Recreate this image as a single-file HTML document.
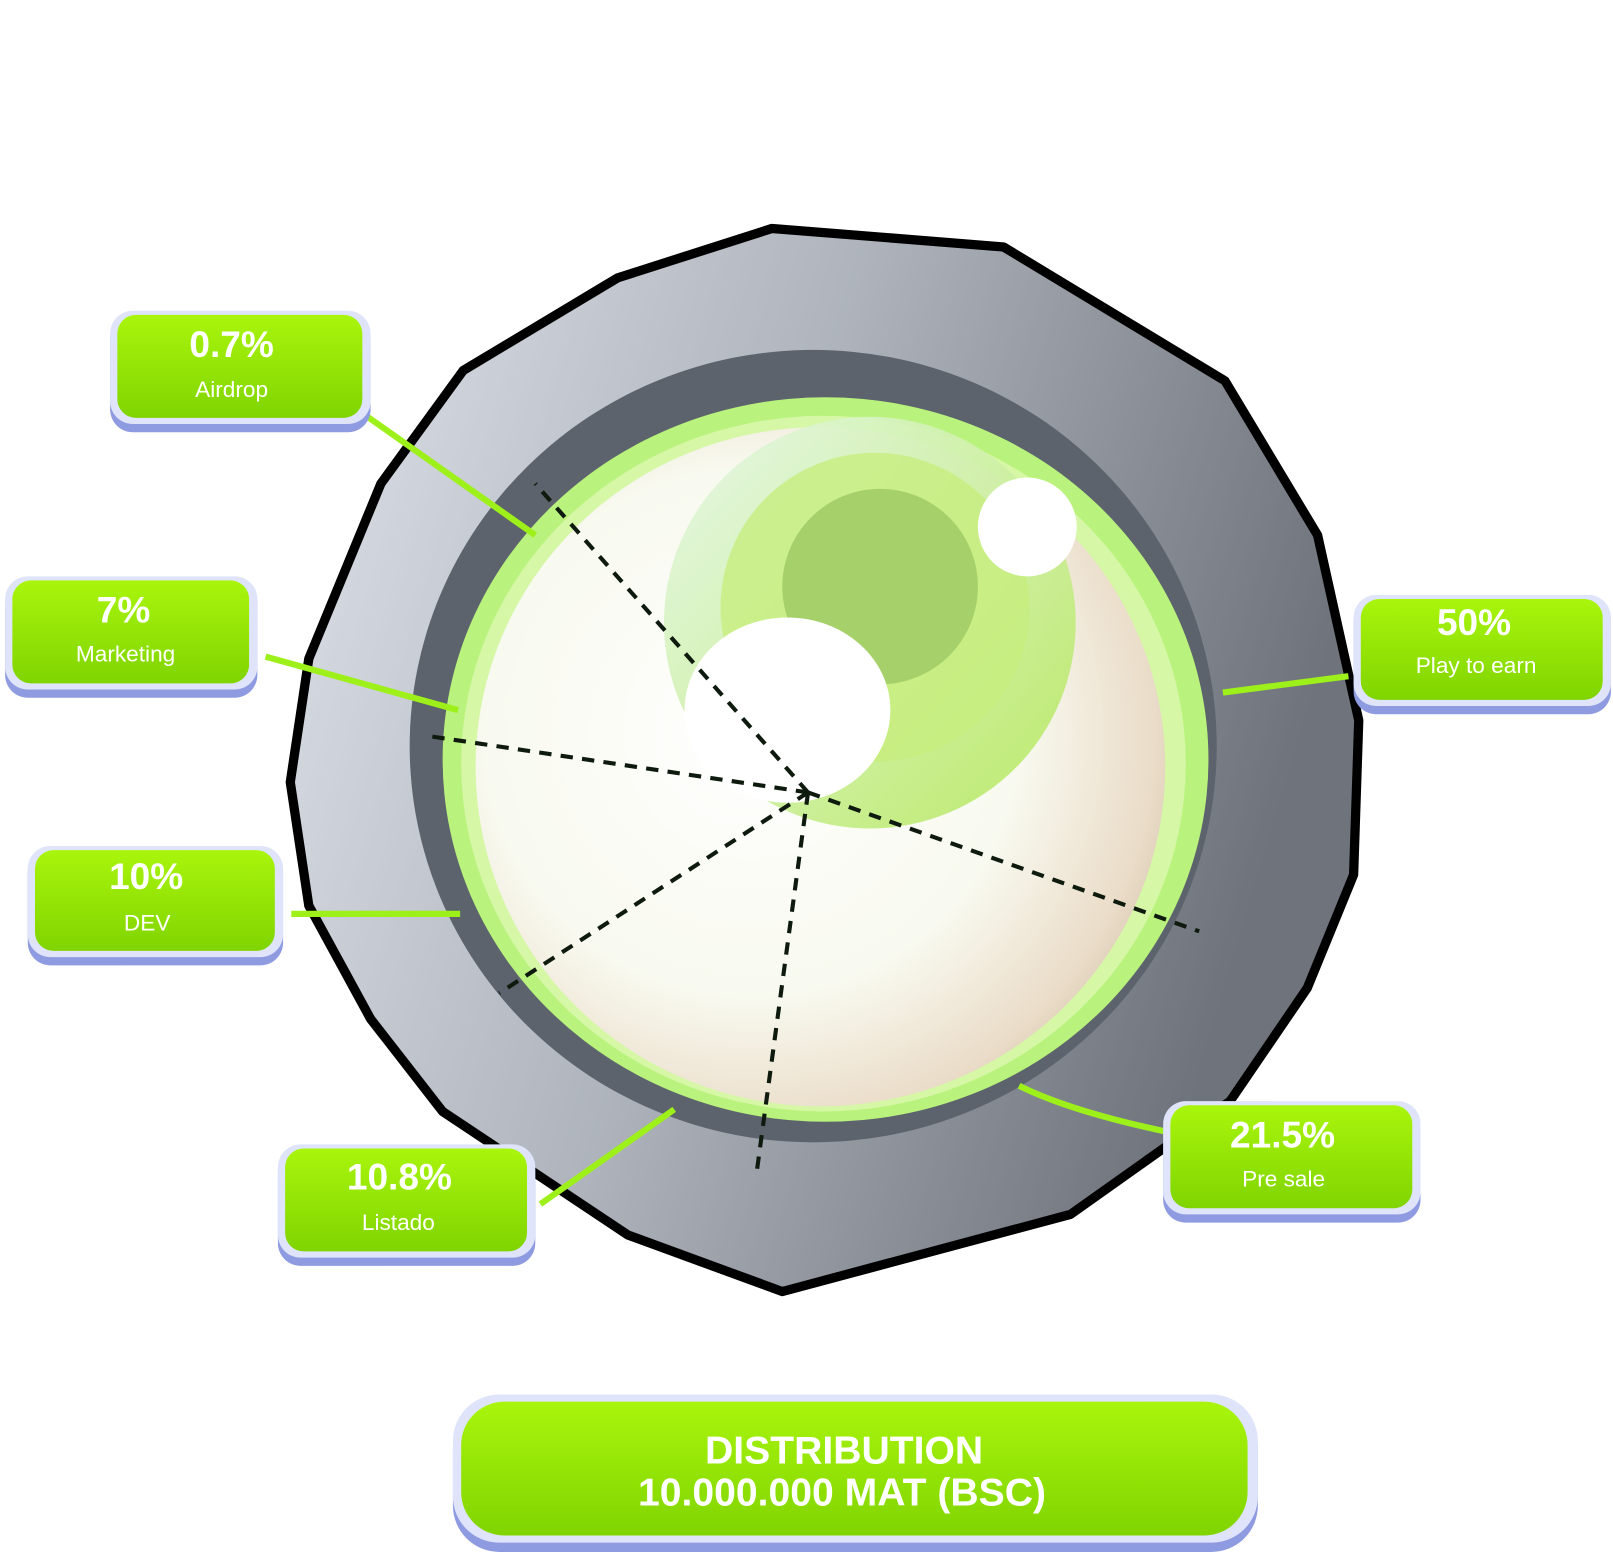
<!DOCTYPE html>
<html><head><meta charset="utf-8"><style>
html,body{margin:0;padding:0;background:#fff;}
svg{display:block;}
text{font-family:"Liberation Sans",sans-serif;fill:#fff;text-anchor:middle;}
</style></head><body>
<svg width="1613" height="1554" viewBox="0 0 1567 1510" preserveAspectRatio="none" xmlns="http://www.w3.org/2000/svg">
<defs>
<linearGradient id="stone" x1="0" y1="0" x2="1" y2="0.3">
<stop offset="0" stop-color="#dfe3ea"/><stop offset="0.5" stop-color="#aeb3bc"/><stop offset="1" stop-color="#6f737b"/>
</linearGradient>
<radialGradient id="orb" cx="0.4" cy="0.45" r="0.65">
<stop offset="0" stop-color="#ffffff"/><stop offset="0.6" stop-color="#f8f9ef"/><stop offset="0.9" stop-color="#eadcc8"/><stop offset="1" stop-color="#d9c8b0"/>
</radialGradient>
<linearGradient id="grn" x1="0" y1="0" x2="0" y2="1">
<stop offset="0" stop-color="#a9f50c"/><stop offset="1" stop-color="#80d400"/>
</linearGradient>
<linearGradient id="iris" x1="0" y1="0" x2="1" y2="1">
<stop offset="0" stop-color="#e4f7e8"/><stop offset="1" stop-color="#b5e85a"/>
</linearGradient>
<g id="box">
<rect x="0" y="6" width="100" height="100" rx="18" fill="#8f9be0"/>
<rect x="0" y="0" width="100" height="98" rx="18" fill="#dfe4fb"/>
</g>
</defs>
<!-- stone frame -->
<path d="M750,222 L975,240 L1190,370 L1280,520 L1320,700 L1315,850 L1270,960 L1195,1070 L1040,1180 L760,1255 L610,1200 L430,1080 L360,990 L300,880 L282,760 L300,640 L370,470 L450,360 L600,270 Z" fill="url(#stone)" stroke="#000" stroke-width="9" stroke-linejoin="round"/>
<ellipse cx="790" cy="725" rx="392" ry="385" fill="#5c636c"/>
<ellipse cx="802" cy="738" rx="372" ry="352" fill="#b9f27c"/>
<ellipse cx="800" cy="742" rx="352" ry="338" fill="#d5f7a6"/>
<ellipse cx="797" cy="745" rx="335" ry="330" fill="url(#orb)"/>
<circle cx="845" cy="605" r="200" fill="url(#iris)" opacity="0.9"/>
<circle cx="850" cy="590" r="150" fill="#c7ee7e" opacity="0.8"/>
<circle cx="855" cy="570" r="95" fill="#a6d06a"/>
<ellipse cx="765" cy="690" rx="100" ry="90" fill="#fff"/>
<circle cx="998" cy="512" r="48" fill="#fff"/>
<!-- dashed -->
<g stroke="#0d1a0d" stroke-width="4" stroke-dasharray="12 9" fill="none">
<line x1="785" y1="770" x2="520" y2="470"/>
<line x1="785" y1="770" x2="415" y2="715"/>
<line x1="785" y1="770" x2="485" y2="965"/>
<line x1="785" y1="770" x2="735" y2="1140"/>
<line x1="785" y1="770" x2="1165" y2="905"/>
</g>
<!-- connectors -->
<g stroke="#9ef01a" stroke-width="6" fill="none">
<line x1="350" y1="400" x2="520" y2="520"/>
<line x1="258" y1="638" x2="445" y2="690"/>
<line x1="283" y1="888" x2="447" y2="888"/>
<line x1="525" y1="1170" x2="655" y2="1078"/>
<path d="M1135,1100 Q1040,1080 990,1055"/>
<line x1="1310" y1="657" x2="1188" y2="673"/>
</g>
<!-- boxes -->
<g>
<rect x="107" y="306" width="253" height="114" rx="22" fill="#8f9be0"/><rect x="107" y="302" width="253" height="110" rx="22" fill="#dfe4fb"/><rect x="114" y="306" width="238" height="100" rx="18" fill="url(#grn)"/>
<text x="225" y="347" font-size="36" font-weight="bold">0.7%</text><text x="225" y="386" font-size="22">Airdrop</text>

<rect x="5" y="564" width="245" height="114" rx="22" fill="#8f9be0"/><rect x="5" y="560" width="245" height="110" rx="22" fill="#dfe4fb"/><rect x="12" y="564" width="230" height="100" rx="18" fill="url(#grn)"/>
<text x="120" y="605" font-size="36" font-weight="bold">7%</text><text x="122" y="643" font-size="22">Marketing</text>

<rect x="27" y="826" width="248" height="112" rx="22" fill="#8f9be0"/><rect x="27" y="822" width="248" height="108" rx="22" fill="#dfe4fb"/><rect x="34" y="826" width="233" height="98" rx="18" fill="url(#grn)"/>
<text x="142" y="864" font-size="36" font-weight="bold">10%</text><text x="143" y="904" font-size="22">DEV</text>

<rect x="270" y="1116" width="250" height="114" rx="22" fill="#8f9be0"/><rect x="270" y="1112" width="250" height="110" rx="22" fill="#dfe4fb"/><rect x="277" y="1116" width="235" height="100" rx="18" fill="url(#grn)"/>
<text x="388" y="1156" font-size="36" font-weight="bold">10.8%</text><text x="387" y="1195" font-size="22">Listado</text>

<rect x="1130" y="1074" width="250" height="114" rx="22" fill="#8f9be0"/><rect x="1130" y="1070" width="250" height="110" rx="22" fill="#dfe4fb"/><rect x="1137" y="1074" width="235" height="100" rx="18" fill="url(#grn)"/>
<text x="1246" y="1115" font-size="36" font-weight="bold">21.5%</text><text x="1247" y="1153" font-size="22">Pre sale</text>

<rect x="1315" y="582" width="250" height="112" rx="22" fill="#8f9be0"/><rect x="1315" y="578" width="250" height="108" rx="22" fill="#dfe4fb"/><rect x="1322" y="582" width="235" height="98" rx="18" fill="url(#grn)"/>
<text x="1432" y="617" font-size="36" font-weight="bold">50%</text><text x="1434" y="654" font-size="22">Play to earn</text>

<rect x="440" y="1362" width="782" height="146" rx="45" fill="#8f9be0"/><rect x="440" y="1355" width="782" height="144" rx="45" fill="#dfe4fb"/><rect x="448" y="1362" width="764" height="130" rx="42" fill="url(#grn)"/>
<text x="820" y="1422" font-size="38" font-weight="bold">DISTRIBUTION</text><text x="818" y="1463" font-size="38" font-weight="bold">10.000.000 MAT (BSC)</text>
</g>
</svg>
</body></html>
